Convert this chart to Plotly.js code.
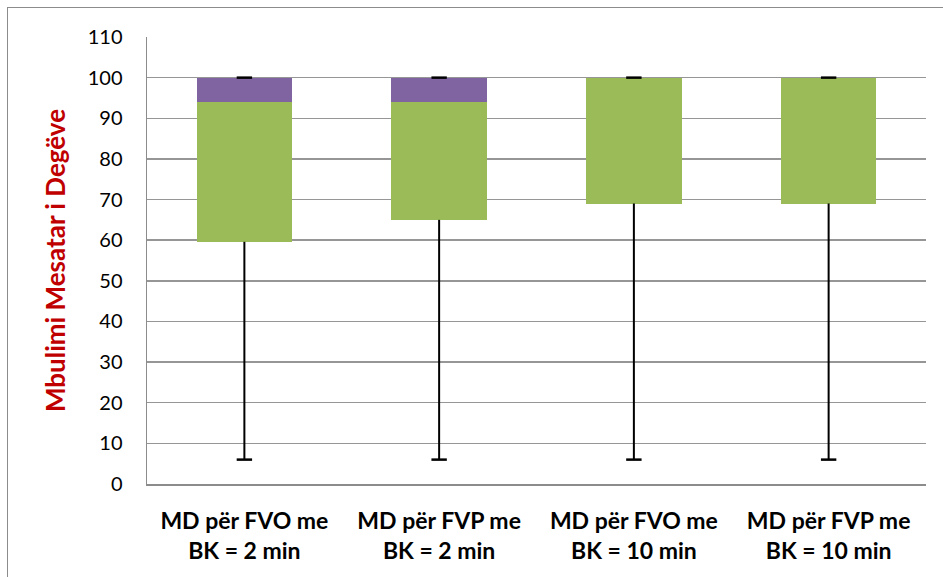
<!DOCTYPE html>
<html>
<head>
<meta charset="utf-8">
<script src="https://cdn.plot.ly/plotly-3.0.1.min.js"></script>
<style>
  html, body { margin: 0; padding: 0; background: #fff; overflow: hidden; }
  #frame { position: absolute; left: 7px; top: 7px; width: 980px; height: 620px; border: 1.5px solid #8c8c8c; pointer-events: none; }
  #chart { width: 943px; height: 577px; }
</style>
</head>
<body>
<div id="chart"></div>
<div id="frame"></div>
<script>
const categories = [
  "MD për FVO me<br>BK = 2 min",
  "MD për FVP me<br>BK = 2 min",
  "MD për FVO me<br>BK = 10 min",
  "MD për FVP me<br>BK = 10 min"
];
const minVals    = [6, 6, 6, 6];
const q1Vals     = [59.6, 65, 69, 69];
const medianVals = [94, 94, 100, 100];
const q3Vals     = [100, 100, 100, 100];
const maxVals    = [100, 100, 100, 100];
const yTicks = [0, 10, 20, 30, 40, 50, 60, 70, 80, 90, 100, 110];

const greenHeights  = q1Vals.map((q, i) => medianVals[i] - q);
const purpleHeights = medianVals.map((m, i) => q3Vals[i] - m);

const whiskerX = [], whiskerY = [];
categories.forEach((c, i) => {
  whiskerX.push(c, c, null, c, c, null);
  whiskerY.push(minVals[i], q1Vals[i], null, q3Vals[i], maxVals[i], null);
});

const traces = [
  { type: 'bar', x: categories, y: q1Vals, marker: { color: 'rgba(0,0,0,0)' }, hoverinfo: 'skip', showlegend: false },
  { type: 'bar', x: categories, y: greenHeights, marker: { color: '#9BBB59' }, showlegend: false },
  { type: 'bar', x: categories, y: purpleHeights, marker: { color: '#8064A2' }, showlegend: false },
  { type: 'scatter', mode: 'lines', x: whiskerX, y: whiskerY, line: { color: '#000', width: 2 }, connectgaps: false, showlegend: false, hoverinfo: 'skip' },
  { type: 'scatter', mode: 'markers', x: categories.concat(categories), y: minVals.concat(maxVals),
    marker: { symbol: 'line-ew', size: 11, line: { color: '#000', width: 2.5 } }, showlegend: false, hoverinfo: 'skip' }
];

const layout = {
  width: 943, height: 577,
  margin: { l: 147, r: 17, t: 37, b: 93, pad: 0 },
  paper_bgcolor: '#fff', plot_bgcolor: '#fff',
  barmode: 'stack',
  bargap: 0.51,
  font: { family: 'Lato, "Open Sans", sans-serif', color: '#000' },
  xaxis: {
    type: 'category',
    showgrid: false,
    showline: true, linecolor: '#8c8c8c', linewidth: 1.5,
    ticks: '',
    tickfont: { size: 23, family: 'Lato, "Open Sans", sans-serif', weight: 'bold', color: '#000' },
    ticklabelstandoff: 16
  },
  yaxis: {
    range: [0, 110],
    tickvals: yTicks,
    ticktext: yTicks.map(String),
    showgrid: true, gridcolor: '#969696', gridwidth: 1.5,
    showline: true, linecolor: '#8c8c8c', linewidth: 1.5,
    zeroline: false,
    ticks: '',
    ticklabelstandoff: 19,
    tickfont: { size: 20, family: 'Lato, "Open Sans", sans-serif', color: '#000' },
    title: { text: 'Mbulimi Mesatar i Degëve', font: { size: 26, color: '#C00000', weight: 'bold', family: 'Lato, "Open Sans", sans-serif' }, standoff: 14 }
  }
};

Plotly.newPlot('chart', traces, layout, { displayModeBar: false, staticPlot: true });
</script>
</body>
</html>
